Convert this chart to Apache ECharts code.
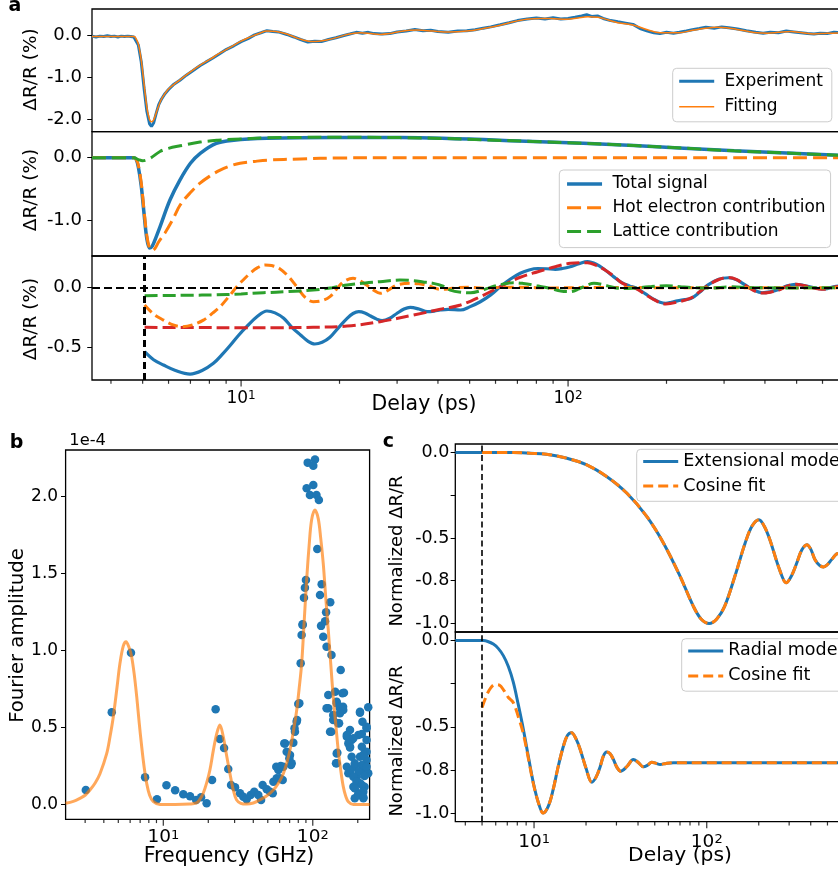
<!DOCTYPE html>
<html><head><meta charset="utf-8">
<script src="https://cdn.jsdelivr.net/npm/echarts@6/dist/echarts.min.js"></script>
<style>html,body{margin:0;padding:0;background:#fff}#c{width:838px;height:875px;position:absolute;left:0;top:0}#t{width:838px;height:875px;position:absolute;left:0;top:0;pointer-events:none}</style>
</head><body><div id="c"></div><div id="t"></div>
<script>
// ---------------- DATA ----------------
// Panel a (delay in ps, dR/R in %)
const a1Experiment = [[3.5,-0.01],[3.6,-0.03],[3.7,-0.01],[3.8,-0.02],[3.9,0.0],[4.0,-0.02],[4.1,-0.01],[4.2,-0.03],[4.3,-0.01],[4.4,-0.02],[4.5,-0.01],[4.6,-0.02],[4.7,-0.03],[4.75,-0.05],[4.85,-0.22],[4.95,-0.62],[5.05,-1.25],[5.15,-1.8],[5.25,-2.1],[5.32,-2.16],[5.4,-2.08],[5.5,-1.85],[5.6,-1.64],[5.7,-1.52],[5.85,-1.38],[6.0,-1.28],[6.2,-1.17],[6.5,-1.06],[6.8,-0.94],[7.1,-0.84],[7.5,-0.71],[7.8,-0.63],[8.2,-0.53],[8.6,-0.43],[9.0,-0.33],[9.5,-0.24],[10,-0.14],[10.5,-0.07],[11.0,0.02],[11.5,0.07],[12.0,0.12],[12.5,0.10],[13.0,0.09],[13.8,0.03],[14.5,-0.03],[15.2,-0.09],[16.0,-0.15],[16.8,-0.13],[17.6,-0.14],[18.5,-0.09],[19.5,-0.05],[20.5,0.0],[21.5,0.04],[22.5,0.08],[23.5,0.06],[24.5,0.08],[25.5,0.05],[27,0.04],[28.5,0.05],[30,0.09],[32,0.11],[34,0.15],[36,0.12],[38,0.13],[40,0.10],[43,0.08],[46,0.11],[49,0.12],[52,0.14],[55,0.18],[58,0.21],[62,0.26],[66,0.31],[70,0.36],[75,0.40],[80,0.42],[85,0.40],[90,0.43],[95,0.40],[100,0.41],[105,0.44],[110,0.47],[114,0.50],[118,0.46],[123,0.47],[128,0.41],[135,0.36],[142,0.33],[150,0.30],[158,0.27],[166,0.17],[175,0.11],[183,0.07],[191,0.05],[200,0.08],[210,0.06],[219,0.08],[230,0.11],[240,0.14],[252,0.17],[264,0.20],[280,0.18],[295,0.21],[310,0.19],[330,0.16],[351,0.12],[375,0.08],[395,0.06],[415,0.08],[440,0.07],[465,0.11],[490,0.09],[515,0.07],[540,0.05],[565,0.04],[590,0.06],[620,0.05],[650,0.08],[680,0.07],[700,0.06]];
const a1Fitting = [[3.5,-0.02],[4.7,-0.02],[4.75,-0.04],[4.85,-0.2],[4.95,-0.58],[5.05,-1.15],[5.15,-1.7],[5.25,-2.0],[5.33,-2.05],[5.42,-1.98],[5.55,-1.75],[5.7,-1.52],[5.85,-1.38],[6.0,-1.27],[6.5,-1.05],[7.0,-0.86],[7.5,-0.70],[8.0,-0.57],[8.63,-0.41],[9.3,-0.27],[9.93,-0.14],[10.6,-0.04],[11.4,0.06],[12.0,0.11],[12.8,0.10],[13.8,0.04],[15.0,-0.07],[16.3,-0.135],[17.3,-0.13],[18.3,-0.1],[19.7,-0.04],[21.1,0.03],[23.1,0.07],[25,0.05],[26.6,0.03],[28.5,0.05],[30.6,0.1],[34.5,0.135],[38.7,0.11],[43,0.09],[48.9,0.11],[55,0.17],[62,0.25],[68,0.33],[74.7,0.39],[82,0.41],[88.2,0.41],[99.1,0.39],[107,0.42],[114.7,0.45],[123.3,0.44],[132,0.38],[142,0.31],[159,0.25],[175,0.14],[190.7,0.07],[219,0.07],[240,0.13],[264,0.18],[285,0.2],[305,0.19],[328,0.15],[351,0.11],[378,0.07],[406,0.06],[440,0.08],[480,0.10],[520,0.07],[564,0.04],[620,0.06],[700,0.07]];
const a2Total = [[3.5,0],[4.7,0],[4.78,-0.03],[4.85,-0.15],[4.95,-0.45],[5.05,-0.9],[5.15,-1.3],[5.25,-1.45],[5.35,-1.42],[5.5,-1.27],[5.65,-1.11],[6.06,-0.68],[6.5,-0.36],[7.0,-0.09],[7.5,0.07],[8.4,0.23],[9.5,0.28],[12,0.31],[19,0.325],[30.6,0.322],[78,0.26],[159,0.195],[322,0.11],[671,0.04],[700,0.035]];
const a2HotElectron = [[3.5,0],[4.7,0],[4.78,-0.03],[4.85,-0.12],[4.95,-0.4],[5.05,-0.85],[5.15,-1.25],[5.25,-1.45],[5.35,-1.49],[5.45,-1.46],[5.6,-1.35],[5.85,-1.21],[6.2,-0.98],[6.51,-0.76],[7.0,-0.56],[7.49,-0.41],[8.0,-0.30],[8.63,-0.20],[9.3,-0.13],[9.93,-0.09],[11,-0.06],[12,-0.04],[15.2,-0.02],[20,-0.005],[30,0],[700,0]];
const a2Lattice = [[3.5,0],[4.7,0],[4.85,-0.03],[5.0,-0.05],[5.27,-0.01],[5.65,0.10],[6.0,0.15],[6.51,0.19],[7.49,0.25],[8.5,0.28],[9.5,0.295],[12,0.318],[15,0.325],[19,0.327],[30.6,0.322],[78,0.26],[159,0.195],[322,0.11],[671,0.04],[700,0.035]];
const a3Signal = [[5.07,-0.533],[5.4,-0.6],[5.79,-0.644],[6.3,-0.69],[6.98,-0.72],[7.6,-0.69],[8.23,-0.63],[8.8,-0.55],[9.27,-0.48],[9.8,-0.40],[10.4,-0.325],[11.2,-0.24],[12.0,-0.194],[12.7,-0.21],[13.5,-0.255],[14.3,-0.33],[15.2,-0.394],[16.0,-0.445],[16.8,-0.469],[17.7,-0.455],[18.7,-0.413],[19.9,-0.33],[21.1,-0.255],[22.0,-0.215],[22.9,-0.2],[23.9,-0.21],[24.9,-0.236],[26,-0.262],[27.0,-0.275],[28.5,-0.255],[30.0,-0.213],[31.5,-0.178],[32.9,-0.164],[35,-0.178],[37.1,-0.2],[39,-0.195],[40.7,-0.186],[43,-0.18],[46.9,-0.186],[50,-0.16],[53.9,-0.117],[58,-0.06],[62,0.008],[66.5,0.07],[71.4,0.12],[76,0.148],[80.8,0.16],[86,0.158],[91.4,0.153],[96,0.16],[101.5,0.175],[108,0.2],[114.7,0.217],[122,0.195],[129.8,0.148],[138,0.09],[146,0.042],[154,0.015],[162,-0.005],[172,-0.05],[183,-0.097],[191,-0.122],[199,-0.13],[207,-0.122],[216,-0.11],[227,-0.1],[238,-0.089],[252,-0.04],[268,0.023],[289,0.07],[310,0.083],[328,0.065],[348,0.023],[370,-0.02],[392,-0.042],[415,-0.035],[441,-0.014],[468,0.015],[496,0.028],[527,0.018],[558,0.003],[585,-0.008],[613,-0.01],[640,0.003],[671,0.014],[700,0.012]];
const a3Background = [[5.07,-0.33],[7,-0.332],[10,-0.333],[13,-0.333],[16.6,-0.33],[21.1,-0.32],[26.6,-0.283],[33.7,-0.228],[40.7,-0.18],[46.9,-0.144],[53.9,-0.075],[62,0.008],[71.4,0.087],[80.8,0.133],[91.4,0.175],[101.5,0.203],[114.7,0.208],[122,0.185],[129.8,0.148],[138,0.095],[146,0.04],[162,-0.01],[172,-0.055],[183,-0.10],[199,-0.135],[216,-0.12],[238,-0.085],[252,-0.035],[268,0.02],[289,0.068],[310,0.085],[328,0.068],[348,0.02],[370,-0.025],[392,-0.045],[415,-0.038],[441,-0.02],[468,0.012],[496,0.028],[527,0.018],[558,0.0],[585,-0.01],[613,-0.012],[640,0.0],[671,0.01],[700,0.01]];
const a3Electron = [[5.07,-0.144],[5.4,-0.22],[5.79,-0.27],[6.2,-0.31],[6.6,-0.325],[7.1,-0.31],[7.67,-0.27],[8.2,-0.21],[8.63,-0.158],[9.2,-0.07],[9.7,0.008],[10.2,0.07],[10.66,0.12],[11.2,0.165],[11.84,0.19],[12.4,0.185],[13.1,0.16],[14,0.09],[14.8,0.008],[15.7,-0.08],[16.6,-0.117],[17.6,-0.11],[18.7,-0.075],[19.6,-0.01],[20.6,0.05],[22.0,0.078],[23.0,0.06],[24.2,0.022],[25.4,-0.02],[26.6,-0.047],[28.2,-0.02],[30,0.022],[32.9,0.037],[35,0.032],[37.1,0.02],[40.7,-0.013],[43,-0.01],[46,0.0],[50,0.003],[55,-0.004],[62,0.002],[70,0.003],[90,-0.002],[120,0.002],[200,0],[700,0]];
const a3Lattice = [[5.07,-0.067],[6,-0.065],[7,-0.063],[8.23,-0.06],[10,-0.052],[11.7,-0.042],[14,-0.032],[16.6,-0.02],[19,0.0],[21.1,0.022],[24,0.04],[26.6,0.05],[30.6,0.064],[33.7,0.058],[36,0.048],[38.7,0.036],[41.5,0.012],[43.6,-0.02],[47,-0.038],[50.4,-0.042],[54,-0.025],[57.9,0.003],[62,0.025],[68.1,0.042],[73,0.035],[78.3,0.022],[83,0.008],[88.2,-0.006],[95,-0.028],[101.5,-0.033],[108,-0.01],[114,0.02],[120,0.036],[128,0.025],[135,0.008],[142,-0.005],[152,-0.006],[165.7,0.0],[180,0.01],[200,0.017],[220,0.008],[241,0.0],[275,-0.003],[310,0.007],[360,0.002],[450,-0.002],[700,0]];
const a3TimeZero = 5.07;   // vertical dashed marker in panel a (ps)
const cTimeZero = 5;       // vertical dashed marker in panel c (ps)

// Panel b (frequency in GHz, amplitude in 1e-4)
const bFit = [[2.22,0.008],[2.5,0.02],[2.77,0.04],[3.0,0.06],[3.23,0.094],[3.5,0.14],[3.77,0.2],[4.18,0.33],[4.4,0.44],[4.63,0.57],[4.9,0.76],[5.13,0.917],[5.4,1.03],[5.63,1.057],[5.9,1.02],[6.14,0.96],[6.4,0.84],[6.64,0.70],[6.9,0.53],[7.17,0.375],[7.45,0.24],[7.74,0.138],[8.1,0.06],[8.58,0.018],[9.5,0.0],[12,0.0],[15,0.003],[16.7,0.01],[17.6,0.035],[18.5,0.073],[19.5,0.14],[20.5,0.224],[21.6,0.35],[22.8,0.462],[23.9,0.516],[25.2,0.44],[26.5,0.32],[27.9,0.203],[29.3,0.1],[30.9,0.03],[33,0.008],[36.1,0.003],[40,0.01],[44.3,0.03],[49,0.055],[54.5,0.094],[59,0.14],[63.5,0.2],[67,0.27],[70.4,0.354],[74,0.47],[78.1,0.614],[81,0.75],[84.3,0.917],[87.5,1.18],[91,1.458],[94.5,1.68],[98.2,1.847],[103.3,1.912],[108.7,1.858],[113,1.73],[117.5,1.566],[122,1.35],[127,1.133],[132,0.91],[137,0.70],[142.5,0.52],[148,0.354],[154,0.22],[160,0.116],[166,0.055],[173,0.018],[187,0.0],[240,0.0]];
const bPoints = [[3.03,0.094],[4.52,0.599],[6.08,0.986],[7.55,0.177],[9.07,0.034],[10.5,0.125],[12.0,0.092],[13.6,0.066],[15.1,0.053],[16.6,0.029],[17.9,0.047],[19.5,0.008],[21.2,0.159],[22.4,0.618],[23.9,0.425],[25.5,0.367],[27.2,0.23],[28.4,0.127],[30.2,0.112],[32.6,0.073],[34.3,0.051],[36.1,0.034],[38.4,0.062],[40.6,0.083],[43.2,0.062],[45.1,0.029],[46.2,0.127],[49.2,0.099],[51.8,0.083],[54.5,0.148],[57.4,0.17],[58.9,0.224],[61.0,0.25],[62.9,0.159],[64.5,0.397],[66.9,0.343],[69.7,0.3],[71.5,0.256],[74.1,0.401],[76.0,0.473],[78.0,0.538],[80.0,0.653],[85.5,1.166],[84.2,1.10],[83.0,0.917],[81.3,0.657],[78.5,0.549],[75.5,0.495],[70.4,0.321],[72.3,0.268],[65.2,0.397],[63.5,0.245],[60.2,0.17],[57.0,0.245],[54.0,0.073],[92.5,2.22],[103.5,2.24],[100.8,2.20],[91.0,2.053],[100.8,2.075],[95.7,2.01],[105.9,2.01],[109.9,1.977],[107.2,1.659],[90.0,1.458],[88.6,1.408],[87.3,1.343],[114.7,1.43],[111.8,1.36],[130.9,1.313],[122.8,1.248],[120.9,1.19],[113.6,1.16],[85.5,1.17],[117.5,1.09],[123.7,1.025],[133.4,0.971],[153.8,0.873],[141.3,0.733],[161.7,0.726],[127,0.625],[144.6,0.668],[152,0.625],[159.5,0.635],[137,0.581],[148,0.527],[130.5,0.473],[207,0.603],[235,0.631],[177.5,0.484],[202,0.451],[169,0.44],[182,0.419],[229,0.495],[177.5,0.375],[144.6,0.332],[144.6,0.268],[182,0.31],[207,0.31],[222,0.332],[169,0.245],[191,0.245],[218,0.224],[235,0.203],[197,0.18],[207,0.138],[187,0.116],[222,0.116],[202,0.073],[191,0.04],[218,0.04],[177.5,0.213],[229,0.289],[213,0.375],[123.7,0.625],[127,0.711],[158,0.722],[144.6,0.657],[152,0.635],[160,0.614],[152,0.592],[137,0.549],[150,0.527],[207,0.596],[215,0.538],[229,0.505],[133,0.473],[169,0.451],[213,0.458],[187,0.43],[229,0.419],[173,0.397],[177.5,0.371],[146,0.336],[229,0.343],[218,0.321],[143,0.268],[191,0.268],[213,0.256],[229,0.245],[173,0.203],[202,0.213],[187,0.18],[222,0.185],[196,0.148],[213,0.127],[191,0.105],[218,0.083],[202,0.062],[218,0.047]];

// Panel c (delay in ps, normalized dR/R)
const c1Extensional = [[3.5,0],[5,0],[7.59,0],[9.5,-0.004],[11.8,-0.01],[15.5,-0.033],[20.2,-0.072],[26.3,-0.14],[34.4,-0.237],[44.9,-0.374],[56.1,-0.529],[70.1,-0.724],[83.7,-0.9],[93,-0.975],[103.3,-1.0],[114,-0.975],[126.9,-0.9],[145.5,-0.724],[166.9,-0.529],[183,-0.43],[200.6,-0.393],[215,-0.43],[232,-0.51],[264,-0.685],[289,-0.762],[310,-0.72],[332,-0.646],[355,-0.57],[380,-0.539],[400,-0.565],[423,-0.626],[450,-0.66],[475,-0.669],[500,-0.655],[529,-0.626],[575,-0.59],[620,-0.6],[700,-0.64]];
const c1Cosine = [[5,0],[7.59,0],[9.5,-0.004],[11.8,-0.01],[15.5,-0.033],[20.2,-0.072],[26.3,-0.14],[34.4,-0.237],[44.9,-0.374],[56.1,-0.529],[70.1,-0.724],[83.7,-0.9],[93,-0.975],[103.3,-1.0],[114,-0.975],[126.9,-0.9],[145.5,-0.724],[166.9,-0.529],[183,-0.43],[200.6,-0.393],[215,-0.43],[232,-0.51],[264,-0.685],[289,-0.762],[310,-0.72],[332,-0.646],[355,-0.57],[380,-0.539],[400,-0.565],[423,-0.626],[450,-0.66],[475,-0.669],[500,-0.655],[529,-0.626],[575,-0.59],[620,-0.6],[700,-0.64]];
const c2Radial = [[3.5,0],[5.09,0],[5.4,-0.005],[5.81,-0.02],[6.2,-0.045],[6.64,-0.087],[7.1,-0.15],[7.59,-0.242],[8.1,-0.37],[8.67,-0.514],[9.3,-0.68],[9.91,-0.825],[10.6,-0.94],[11.3,-1.0],[12.1,-0.96],[12.9,-0.864],[13.8,-0.73],[14.8,-0.611],[15.6,-0.55],[16.5,-0.534],[17.5,-0.57],[18.5,-0.631],[20,-0.74],[21.6,-0.821],[22.9,-0.79],[24.2,-0.728],[25.2,-0.67],[26.3,-0.646],[27.5,-0.655],[28.8,-0.689],[30.2,-0.735],[31.7,-0.757],[34.5,-0.73],[37.6,-0.689],[40,-0.705],[43,-0.732],[45.5,-0.722],[48,-0.705],[51,-0.712],[53.7,-0.718],[58,-0.712],[64.1,-0.708],[100,-0.708],[700,-0.708]];
const c2Cosine = [[5,-0.388],[5.3,-0.32],[5.6,-0.275],[5.95,-0.255],[6.3,-0.258],[6.7,-0.29],[7.1,-0.33],[7.59,-0.36],[8.1,-0.44],[8.67,-0.54],[9.3,-0.69],[9.91,-0.83],[10.6,-0.94],[11.3,-1.0],[12.1,-0.96],[12.9,-0.864],[13.8,-0.73],[14.8,-0.611],[15.6,-0.55],[16.5,-0.534],[17.5,-0.57],[18.5,-0.631],[20,-0.74],[21.6,-0.821],[22.9,-0.79],[24.2,-0.728],[25.2,-0.67],[26.3,-0.646],[27.5,-0.655],[28.8,-0.689],[30.2,-0.735],[31.7,-0.757],[34.5,-0.73],[37.6,-0.689],[40,-0.705],[43,-0.732],[45.5,-0.722],[48,-0.705],[51,-0.712],[53.7,-0.718],[58,-0.712],[64.1,-0.708],[100,-0.708],[700,-0.708]];

// Tick values
const delayMajorTicks = [10, 100];
const delayMinorTicks = [4,5,6,7,8,9,20,30,40,50,60,70,80,90,200,300,400,500,600,700];
const freqMajorTicks = [10, 100];
const freqMinorTicks = [3,4,5,6,7,8,9,20,30,40,50,60,70,80,90,200];
const a1YTicks = [-2, -1, 0];
const a2YTicks = [-1, 0];
const a3YTicks = [-0.5, 0];
const bYTicks = [0, 0.5, 1, 1.5, 2];
const cYTicks = [-1, -0.75, -0.5, -0.25, 0];
const cYLabels = [-1, -0.75, -0.5, 0];

// Axis ranges
const DELAY_RANGE = [3.5, 700], FREQ_RANGE = [2.22, 240];
const A1_Y = [-2.286, 0.636], A2_Y = [-1.578, 0.417], A3_Y = [-0.769, 0.264];
const B_Y = [-0.096, 2.302], C_Y = [-1.05, 0.05];

// ---------------- CHART ----------------
const FONT = '"DejaVu Sans", sans-serif';
const C_BLUE = '#1f77b4', C_ORANGE = '#ff7f0e', C_GREEN = '#2ca02c', C_RED = '#d62728';
const A_LEFT = 92, A_W = 752.4, C_LEFT = 455.3, C_W = 397.4;
const GRID_RECTS = [
  [A_LEFT, 9, A_W, 122.7],      // a1
  [A_LEFT, 131.7, A_W, 124.3],  // a2
  [A_LEFT, 256, A_W, 124],      // a3
  [65.6, 450, 304, 369.3],      // b
  [C_LEFT, 444, C_W, 188],      // c1
  [C_LEFT, 632, C_W, 189.7]     // c2
];
const X_RANGES = [DELAY_RANGE, DELAY_RANGE, DELAY_RANGE, FREQ_RANGE, DELAY_RANGE, DELAY_RANGE];
const Y_RANGES = [A1_Y, A2_Y, A3_Y, B_Y, C_Y, C_Y];
const Y_TICKS = [a1YTicks, a2YTicks, a3YTicks, bYTicks, cYTicks, cYTicks];

function gridBox(r, show) {
  return {left: r[0], top: r[1], width: r[2], height: r[3], show, borderColor: '#000', borderWidth: 1.3,
          backgroundColor: 'transparent', containLabel: false, outerBoundsMode: 'none'};
}
function powRich(fs, sfs, pad) {
  return {
    n: {fontSize: fs, fontFamily: FONT, color: '#000', verticalAlign: 'bottom', lineHeight: fs + 1},
    s: {fontSize: sfs, fontFamily: FONT, color: '#000', verticalAlign: 'bottom', lineHeight: sfs + 1, padding: [0, 0, pad, 0]}
  };
}
function logAxis(grid, range, extra) {
  return Object.assign({
    type: 'log', logBase: 10, gridIndex: grid, min: range[0], max: range[1],
    axisLine: {show: false, onZero: false}, splitLine: {show: false},
    axisTick: {show: false}, axisLabel: {show: false}
  }, extra || {});
}
function majorLabels(ticks, fs, margin) {
  return {
    axisLabel: {show: true, customValues: ticks, margin,
      formatter: v => '{n|10}{s|' + Math.round(Math.log10(v)) + '}',
      rich: powRich(fs, Math.round(fs * 0.7), 5)}
  };
}
function valAxis(grid, range, ticks, labels, fs, margin, len) {
  return {
    type: 'value', gridIndex: grid, min: range[0], max: range[1],
    axisLine: {show: false, onZero: false}, splitLine: {show: false},
    axisTick: {show: true, customValues: ticks, length: len, lineStyle: {color: '#000', width: 1}},
    axisLabel: {show: true, customValues: labels, margin, fontSize: fs, fontFamily: FONT, color: '#000',
      formatter: v => Number(v).toFixed(1)}
  };
}
// bottom tick marks of the log axes, placed through the axis scales at the lower edge of the y range
function xTicks(xi, yi, ticks, yRange, len) {
  return {
    type: 'scatter', xAxisIndex: xi, yAxisIndex: yi, clip: false,
    data: ticks.map(t => [t, yRange[0]]),
    symbol: 'rect', symbolSize: [1.2, len], symbolOffset: [0, len / 2],
    itemStyle: {color: '#000'}
  };
}
function lineSeries(name, data, xi, yi, color, width, dash, extra) {
  return Object.assign({
    type: 'line', name, data, xAxisIndex: xi, yAxisIndex: yi,
    symbol: 'none', showSymbol: false, smooth: 0.35, clip: true,
    lineStyle: {color, width, type: dash || 'solid', cap: 'butt'},
    itemStyle: {color}, emphasis: {disabled: true}
  }, extra || {});
}
function legendBox(names, left, top, fs, gap, pad, prefix) {
  return {
    data: names, left, top, orient: 'vertical', itemWidth: 35, itemHeight: 14, itemGap: gap,
    padding: pad, borderColor: '#cccccc', borderWidth: 1, borderRadius: 4,
    backgroundColor: 'rgba(255,255,255,0.85)', selectedMode: false,
    lineStyle: {width: 'inherit'},
    itemStyle: {opacity: 0, color: 'transparent', borderColor: 'transparent', borderWidth: 0},
    textStyle: {fontSize: fs, fontFamily: FONT, color: '#000', lineHeight: fs + 1},
    formatter: n => (prefix || '') + n
  };
}
function txt(text, x, y, fs, opts) {
  opts = opts || {};
  return {type: 'text', x, y, rotation: opts.rot || 0, silent: true, z: 100,
    style: {text, font: (opts.bold ? 'bold ' : '') + fs + 'px ' + FONT, fill: '#000',
      textAlign: opts.align || 'center', textVerticalAlign: 'middle',
      align: opts.align || 'center', verticalAlign: 'middle'}};
}
function vMark(x, color, dash, width) {
  return {silent: true, symbol: ['none', 'none'], label: {show: false}, animation: false,
    lineStyle: {color, type: dash, width}, data: [{xAxis: x}]};
}

const option = {
  animation: false,
  backgroundColor: '#fff',
  grid: GRID_RECTS.map(r => gridBox(r, true)),
  xAxis: [
    logAxis(0, DELAY_RANGE),
    logAxis(1, DELAY_RANGE),
    logAxis(2, DELAY_RANGE, majorLabels(delayMajorTicks, 17, 9)),
    logAxis(3, FREQ_RANGE, majorLabels(freqMajorTicks, 18.5, 8)),
    logAxis(4, DELAY_RANGE),
    logAxis(5, DELAY_RANGE, majorLabels(delayMajorTicks, 18.5, 10))
  ],
  yAxis: [
    valAxis(0, A1_Y, a1YTicks, a1YTicks, 18, 10, 4.5),
    valAxis(1, A2_Y, a2YTicks, a2YTicks, 18, 10, 4.5),
    valAxis(2, A3_Y, a3YTicks, a3YTicks, 18, 10, 4.5),
    valAxis(3, B_Y, bYTicks, bYTicks, 17, 7.5, 4.5),
    valAxis(4, C_Y, cYTicks, cYLabels, 17.5, 6, 4.5),
    valAxis(5, C_Y, cYTicks, cYLabels, 17.5, 6, 4.5)
  ],
  legend: [
    legendBox(['Experiment', 'Fitting'], 672.7, 68.3, 17, 7.5, [4, 9, 6, 5], ' '),
    legendBox(['Total signal', 'Hot electron contribution', 'Lattice contribution'], 559.3, 170, 17, 5.8, [5, 5, 7, 6], ' '),
    legendBox(['Extensional mode', 'Cosine fit'], 636.7, 449.3, 17.5, 6, [3, 8, 6, 5], ''),
    legendBox(['Radial mode', 'Cosine fit'], 681.7, 638.7, 17.5, 6.5, [3, 8, 6, 5], '')
  ],
  series: [
    lineSeries('Experiment', a1Experiment, 0, 0, C_BLUE, 3, 'solid', {smooth: false}),
    lineSeries('Fitting', a1Fitting, 0, 0, C_ORANGE, 1.5),
    lineSeries('Total signal', a2Total, 1, 1, C_BLUE, 3.5),
    lineSeries('Hot electron contribution', a2HotElectron, 1, 1, C_ORANGE, 3, [14, 6]),
    lineSeries('Lattice contribution', a2Lattice, 1, 1, C_GREEN, 3, [14, 6]),
    lineSeries('a3 signal', a3Signal, 2, 2, C_BLUE, 3.2),
    lineSeries('a3 background', a3Background, 2, 2, C_RED, 3, [13, 5]),
    lineSeries('a3 electron', a3Electron, 2, 2, C_ORANGE, 3, [10, 5]),
    lineSeries('a3 lattice', a3Lattice, 2, 2, C_GREEN, 3, [13, 5], {
      markLine: {silent: true, symbol: ['none', 'none'], label: {show: false}, animation: false,
        lineStyle: {color: '#000', type: [8, 4], width: 2.2},
        data: [{yAxis: 0}, {xAxis: a3TimeZero, lineStyle: {color: '#000', type: [7, 4], width: 3}}]}
    }),
    {type: 'scatter', name: 'b points', data: bPoints, xAxisIndex: 3, yAxisIndex: 3, symbolSize: 8.5,
     itemStyle: {color: C_BLUE, opacity: 1}, emphasis: {disabled: true}, z: 2},
    lineSeries('b fit', bFit, 3, 3, 'rgba(255,127,14,0.68)', 3, 'solid', {z: 3}),
    lineSeries('Extensional mode', c1Extensional, 4, 4, C_BLUE, 3, 'solid', {markLine: vMark(cTimeZero, '#000', [6, 3.5], 1.6)}),
    lineSeries('Cosine fit', c1Cosine, 4, 4, C_ORANGE, 3, [10, 5]),
    lineSeries('Radial mode', c2Radial, 5, 5, C_BLUE, 3, 'solid', {markLine: vMark(cTimeZero, '#000', [6, 3.5], 1.6)}),
    lineSeries('Cosine fit', c2Cosine, 5, 5, C_ORANGE, 3, [10, 5])
  ],
  graphic: [
    txt('a', 15, 6.5, 19, {bold: true}),
    txt('b', 16.5, 443, 19, {bold: true}),
    txt('c', 388.5, 442, 19, {bold: true}),
    txt('1e-4', 69.3, 440.8, 16.3, {align: 'left'}),
    txt('ΔR/R (%)', 31.5, 69.5, 18.5, {rot: Math.PI / 2}),
    txt('ΔR/R (%)', 31.5, 190, 18.5, {rot: Math.PI / 2}),
    txt('ΔR/R (%)', 31.5, 319, 18.5, {rot: Math.PI / 2}),
    txt('Delay (ps)', 424, 405, 20.5),
    txt('Fourier amplitude', 17.5, 635.5, 19.7, {rot: Math.PI / 2}),
    txt('Frequency (GHz)', 229, 856.5, 20.5),
    txt('Normalized ΔR/R', 397.5, 551, 18, {rot: Math.PI / 2}),
    txt('Normalized ΔR/R', 397.5, 741, 18, {rot: Math.PI / 2}),
    txt('Delay (ps)', 680, 855.5, 20.3)
  ]
};
const chart = echarts.init(document.getElementById('c'), null, {renderer: 'canvas'});
chart.setOption(option);

// Tick-mark layer: same grids and scales, only the tick marks (transparent background)
const tickOption = {
  animation: false,
  backgroundColor: 'rgba(0,0,0,0)',
  grid: GRID_RECTS.map(r => gridBox(r, false)),
  xAxis: X_RANGES.map((r, i) => logAxis(i, r)),
  yAxis: Y_RANGES.map((r, i) => ({
    type: 'value', gridIndex: i, min: r[0], max: r[1], splitLine: {show: false},
    axisLine: {show: false, onZero: false}, axisLabel: {show: false},
    axisTick: {show: true, customValues: Y_TICKS[i], length: 4.5, lineStyle: {color: '#000', width: 1}}
  })),
  series: [
    xTicks(2, 2, delayMajorTicks, A3_Y, 6.5),
    xTicks(2, 2, delayMinorTicks, A3_Y, 3.8),
    xTicks(3, 3, freqMajorTicks, B_Y, 6.5),
    xTicks(3, 3, freqMinorTicks, B_Y, 3.8),
    xTicks(5, 5, delayMajorTicks, C_Y, 6.5),
    xTicks(5, 5, delayMinorTicks, C_Y, 3.8)
  ]
};
const tickChart = echarts.init(document.getElementById('t'), null, {renderer: 'canvas'});
tickChart.setOption(tickOption);
</script></body></html>
